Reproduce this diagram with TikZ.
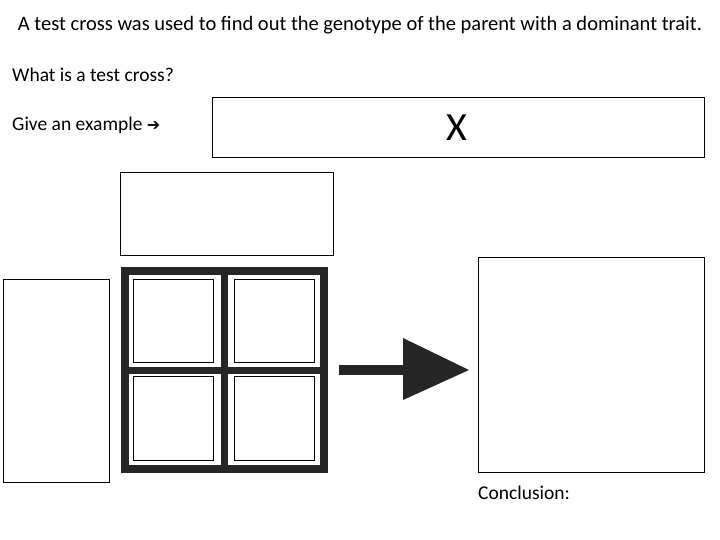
\documentclass[tikz,border=0pt]{standalone}
\usepackage{fontspec}
\setmainfont{Carlito}
\newfontfamily\dejavu{DejaVu Sans}
\begin{document}
\begin{tikzpicture}[x=1pt,y=-1pt,
  box/.style={draw=black,line width=0.8pt},
  cell/.style={draw=black,line width=1pt},
  txt/.style={anchor=west,inner sep=0pt,font=\fontsize{19.5}{22}\selectfont}]
\useasboundingbox (0,0) rectangle (720,540);
\fill[white] (0,0) rectangle (720,540);
\node[anchor=center,inner sep=0pt,font=\fontsize{20.5}{23}\selectfont] (title) at (360,25) {A test cross was used to find out the genotype of the parent with a dominant trait.};
\node[txt] (q) at (12,75) {What is a test cross?};
\node[txt] (ex) at (12,125) {Give an example {\dejavu\bfseries\fontsize{16}{18}\selectfont ➔}};
\draw[box] (212,97) rectangle (704,157);
\node[inner sep=0pt,font=\fontsize{40}{42}\selectfont] (x) at (457,128) {X};
\draw[box] (120,172) rectangle (333,255);
\draw[box] (3,279) rectangle (109,482);
\draw[box] (478,257) rectangle (704,472);
\node[txt] (c) at (478,493) {Conclusion:};
% punnett
\draw[line width=8pt,color=black!85] (125,271) rectangle (324,469);
\draw[line width=7pt,color=black!85] (224,271) -- (224,469);
\draw[line width=7pt,color=black!85] (125,370) -- (324,370);
\draw[cell] (133,279) rectangle (213,362);
\draw[cell] (234,279) rectangle (314,362);
\draw[cell] (133,376) rectangle (213,460);
\draw[cell] (234,376) rectangle (314,460);
% arrow
\fill[black!85] (339,365) rectangle (405,375);
\fill[black!85] (403,338) -- (469,370) -- (403,400) -- cycle;
\end{tikzpicture}
\end{document}
